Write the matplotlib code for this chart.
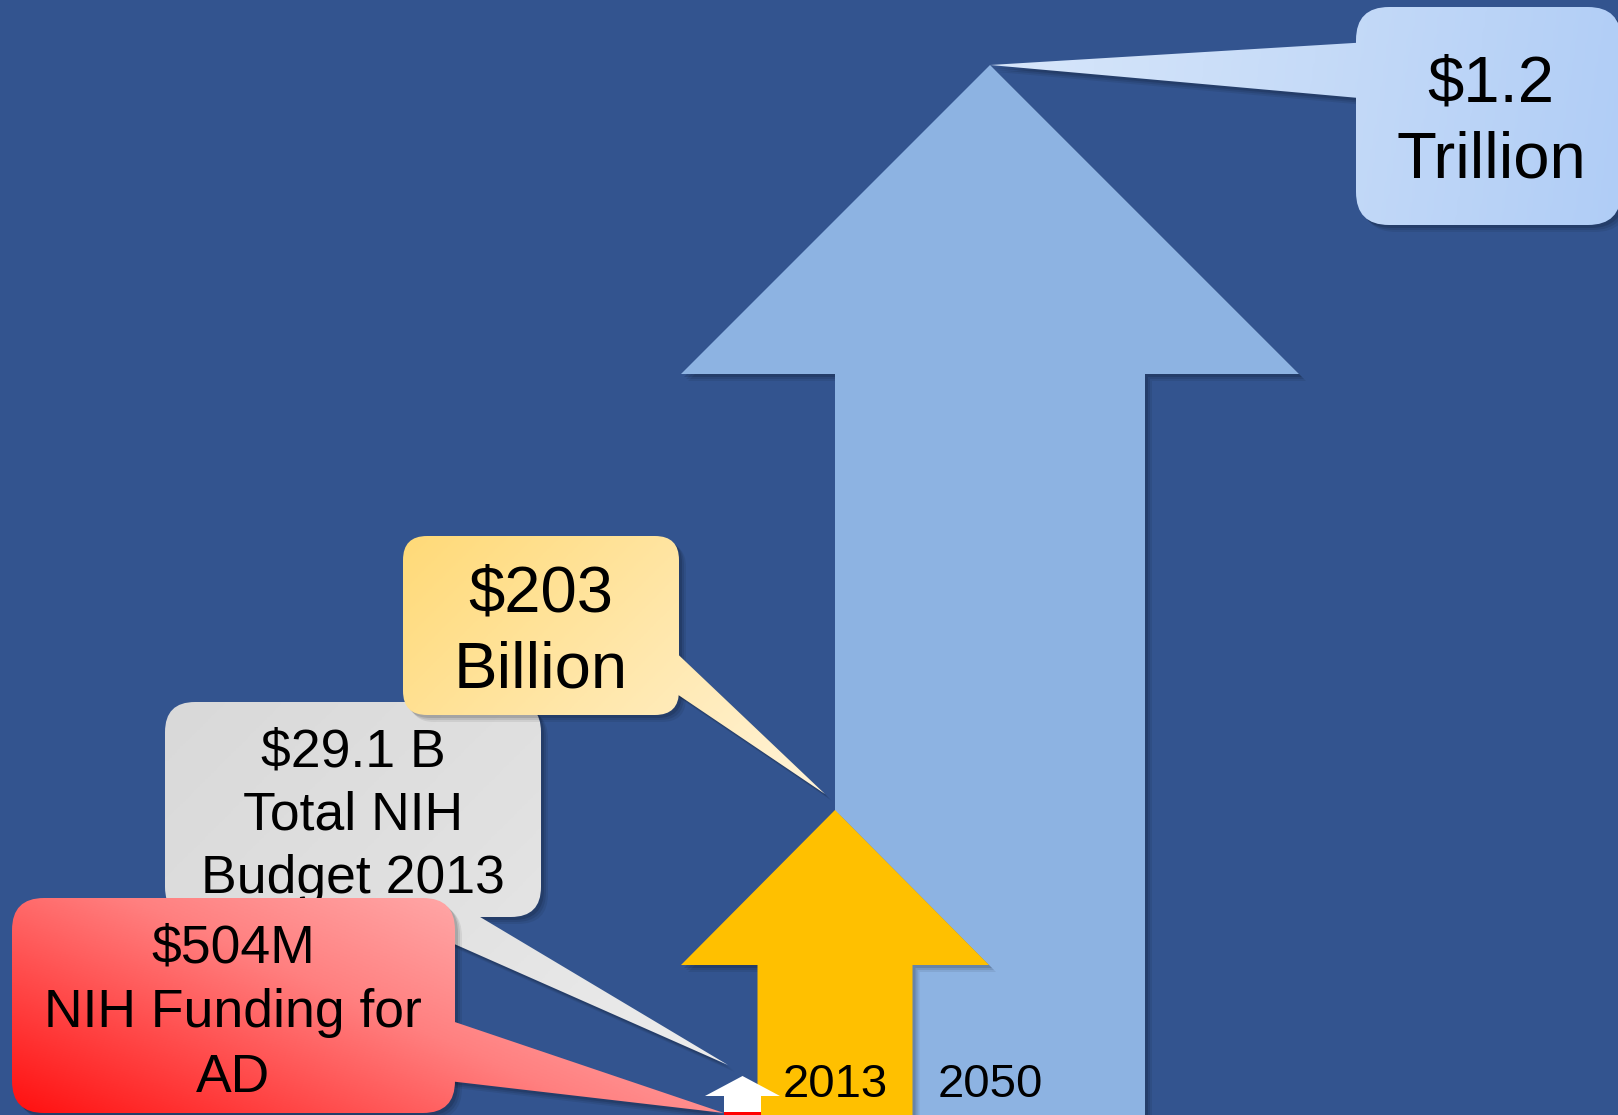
import matplotlib
matplotlib.use("Agg")
import matplotlib.pyplot as plt
import numpy as np
from matplotlib.patches import Polygon, FancyBboxPatch
from matplotlib.colors import LinearSegmentedColormap

# ---------------- data ----------------
categories = ["NIH Funding for AD 2013", "Total NIH Budget 2013",
              "AD cost 2013", "AD cost 2050"]
values_bn = [0.504, 29.1, 203, 1200]          # US$ billions
arrow_heights = [3, 39, 305, 1050]            # arrow heights (canvas units)
callout_texts = [["$504M", "NIH Funding for", "AD"],
                 ["$29.1 B", "Total NIH", "Budget 2013"],
                 ["$203", "Billion"],
                 ["$1.2", "Trillion"]]
year_labels = ["2013", "2050"]

# ---------------- layout / style ----------------
W, H = 1618, 1115
BG = "#33548F"
FONT = ["Liberation Sans", "DejaVu Sans"]


def fy(y):
    """convert a top-down canvas position to the upward y axis"""
    return H - y


arrow_cx = [742.5, 742.5, 835, 990]
arrow_shaft = [18.5, 18.5, 77.5, 155]
arrow_head = [18.5, 37.5, 154, 309]
arrow_headlen = [0, 20, 155, 309]
arrow_colors = ["#FF0000", "#FFFFFF", "#FFC000", "#8DB3E2"]
arrow_order = [3, 2, 1, 0]

# callouts (top-down canvas positions): box (x0, ytop, x1, ybottom), radius, wedge pts
callouts = {
    3: dict(box=(1356, 7, 1621, 225), r=33,
            wedge=[(1370, 42), (1370, 99), (990, 65)],
            cols=["#D8E7FB", "#C6DBF8", "#B0CDF6"], d=(1, 0.15),
            tx=1491, base=[102, 178], fs=47),
    1: dict(box=(165, 702, 541, 917), r=30,
            wedge=[(366, 905), (460, 905), (728, 1065)],
            cols=["#D9D9D9", "#E1E1E1", "#EDEDED"], d=(1, 1),
            tx=353, base=[766, 829, 893], fs=38.5),
    2: dict(box=(403, 536, 679, 715), r=24,
            wedge=[(665, 642), (665, 686), (825, 794)],
            cols=["#FFDA78", "#FFE7AA", "#FFF4DA"], d=(1, 1),
            tx=541, base=[612, 688], fs=47),
    0: dict(box=(12, 898, 455, 1113), r=32,
            wedge=[(440, 1017), (440, 1080), (724, 1113)],
            cols=["#FF1010", "#FF8080", "#FFC6C6"], d=(0.45, -1),
            tx=233, base=[963, 1027, 1092], fs=38.5),
}
callout_order = [3, 1, 2, 0]

fig = plt.figure(figsize=(W / 100, H / 100), dpi=100)
fig.patch.set_facecolor(BG)
ax = fig.add_axes([0, 0, 1, 1])
ax.set_facecolor(BG)


def arrow_pts(i):
    cx, sw, hw, hl = arrow_cx[i], arrow_shaft[i], arrow_head[i], arrow_headlen[i]
    top = arrow_heights[i]
    return [(cx - sw, -5), (cx - sw, top - hl), (cx - hw, top - hl), (cx, top),
            (cx + hw, top - hl), (cx + sw, top - hl), (cx + sw, -5)]


def shadow(make_patch, z):
    for k, a in [(7, 0.07), (5, 0.09), (3, 0.12)]:
        p = make_patch(k)
        p.set_facecolor("black")
        p.set_alpha(a)
        p.set_edgecolor("none")
        p.set_zorder(z)
        ax.add_patch(p)


z = 1
# arrows (bars rising from the bottom edge)
for i in arrow_order:
    pts = arrow_pts(i)
    if i >= 2:
        shadow(lambda k, pts=pts: Polygon([(x + k, y - k) for x, y in pts], closed=True), z)
    ax.add_patch(Polygon(pts, closed=True, facecolor=arrow_colors[i],
                         edgecolor="none", zorder=z + 0.5))
    z += 1


def gradient(patch, ext, cols, d, zz):
    x0, x1, y0, y1 = ext          # y0 < y1 in upward coords
    xs = np.linspace(x0, x1, 200)
    ys = np.linspace(y0, y1, 200)
    X, Y = np.meshgrid(xs, ys)
    t = (X - x0) * d[0] + (y1 - Y) * d[1]
    t = (t - t.min()) / (t.max() - t.min())
    cmap = LinearSegmentedColormap.from_list("g", cols)
    im = ax.imshow(t, cmap=cmap, extent=(x0, x1, y0, y1), origin="lower",
                   aspect="auto", zorder=zz, interpolation="bilinear")
    im.set_clip_path(patch)


# callouts
for i in callout_order:
    c = callouts[i]
    bx0, bt, bx1, bb = c["box"]
    wed = [(x, fy(y)) for x, y in c["wedge"]]

    def mk_box(k, c=c):
        bx0, bt, bx1, bb = c["box"]
        return FancyBboxPatch((bx0 + k, fy(bb) - k), bx1 - bx0, bb - bt,
                              boxstyle=f"round,pad=0,rounding_size={c['r']}")

    def mk_wedge(k, wed=wed):
        return Polygon([(x + k, y - k) for x, y in wed], closed=True)

    shadow(mk_box, z)
    shadow(mk_wedge, z)
    z += 1
    xs_all = [bx0, bx1] + [p[0] for p in wed]
    ys_all = [fy(bt), fy(bb)] + [p[1] for p in wed]
    ext = (min(xs_all), max(xs_all), min(ys_all), max(ys_all))
    for p in (mk_box(0), mk_wedge(0)):
        p.set_facecolor("none")
        p.set_edgecolor("none")
        ax.add_patch(p)
        gradient(p, ext, c["cols"], c["d"], z)
    for line, yb in zip(callout_texts[i], c["base"]):
        ax.text(c["tx"], fy(yb), line, ha="center", va="baseline", fontsize=c["fs"],
                family=FONT, color="black", zorder=z + 0.5)
    z += 1

# year labels on the 2013 / 2050 arrows
for lab, i in zip(year_labels, [2, 3]):
    ax.text(arrow_cx[i], fy(1097), lab, ha="center", va="baseline", fontsize=34,
            family=FONT, color="black", zorder=z)

ax.set_xlim(0, W)
ax.set_ylim(0, H)
ax.axis("off")
fig.savefig("out.png", dpi=100, facecolor=BG)
